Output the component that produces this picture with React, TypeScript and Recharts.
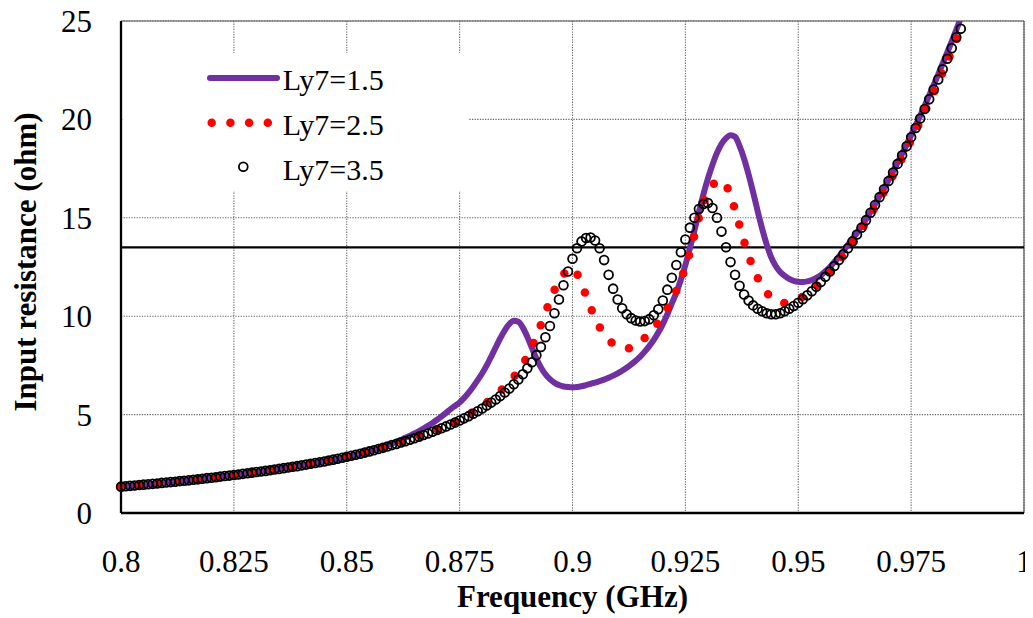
import React from 'react';
import { LineChart, Line, XAxis, YAxis, CartesianGrid, ReferenceLine, Legend } from 'recharts';

// ---------- data ----------
const FREQ_START = 0.8; // GHz, first sample
const FREQ_STEP = 0.001; // GHz, sample spacing
const xTicks = [0.8, 0.825, 0.85, 0.875, 0.9, 0.925, 0.95, 0.975, 1];
const yTicks = [0, 5, 10, 15, 20, 25];
const thresholdOhm = 13.5;
const seriesNames = ['Ly7=1.5', 'Ly7=2.5', 'Ly7=3.5'];

// 0.800 .. 0.856 GHz, where all three curves coincide
const commonLow = [
  1.34, 1.36, 1.38, 1.4, 1.42, 1.44, 1.46, 1.48, 1.5, 1.53,
  1.55, 1.57, 1.59, 1.62, 1.64, 1.66, 1.69, 1.71, 1.74, 1.77,
  1.79, 1.82, 1.85, 1.88, 1.9, 1.93, 1.96, 1.99, 2.02, 2.05,
  2.08, 2.11, 2.14, 2.17, 2.21, 2.24, 2.28, 2.31, 2.35, 2.38,
  2.42, 2.46, 2.5, 2.54, 2.58, 2.62, 2.67, 2.71, 2.76, 2.81,
  2.86, 2.91, 2.96, 3.01, 3.07, 3.13, 3.19,
];

// Ly7 = 1.5 (0.857 .. 0.986 GHz)
const ly7_15 = [
  ...commonLow,
  3.27, 3.35, 3.44,
  3.53, 3.62, 3.72, 3.82, 3.93, 4.04, 4.16, 4.29, 4.43, 4.58,
  4.74, 4.91, 5.09, 5.28, 5.45, 5.62, 5.85, 6.12, 6.42, 6.75,
  7.1, 7.5, 7.95, 8.42, 8.88, 9.28, 9.6, 9.77, 9.72, 9.42,
  8.95, 8.4, 7.85, 7.4, 7.05, 6.8, 6.62, 6.5, 6.43, 6.4,
  6.39, 6.4, 6.44, 6.5, 6.56, 6.63, 6.7, 6.78, 6.87, 6.98,
  7.1, 7.23, 7.38, 7.55, 7.74, 7.95, 8.2, 8.48, 8.8, 9.17,
  9.6, 10.1, 10.65, 11.2, 11.85, 12.6, 13.45, 14.35, 15.3, 16.2,
  17.0, 17.7, 18.3, 18.75, 19.05, 19.2, 19.12, 18.65, 18.0, 17.2,
  16.3, 15.35, 14.45, 13.65, 13.0, 12.55, 12.25, 12.05, 11.9, 11.8,
  11.75, 11.74, 11.77, 11.84, 11.94, 12.08, 12.28, 12.5, 12.75, 13.03,
  13.32, 13.63, 13.92, 14.23, 14.56, 14.92, 15.3, 15.69, 16.09, 16.5,
  16.92, 17.36, 17.8, 18.25, 18.72, 19.2, 19.69, 20.19, 20.7, 21.22,
  21.75, 22.29, 22.84, 23.4, 23.97, 24.55, 25.15,
];

// Ly7 = 2.5
const ly7_25 = [
  ...commonLow,
  3.25, 3.31, 3.38,
  3.45, 3.51, 3.58, 3.65, 3.72, 3.8, 3.88, 3.96, 4.04, 4.13,
  4.22, 4.31, 4.41, 4.52, 4.63, 4.75, 4.87, 5.0, 5.14, 5.29,
  5.45, 5.62, 5.8, 6.0, 6.2, 6.42, 6.66, 6.92, 7.22, 7.57,
  7.97, 8.45, 8.97, 9.57, 10.18, 10.77, 11.32, 11.78, 12.12, 12.36,
  12.45, 12.15, 11.65, 11.05, 10.45, 9.9, 9.45, 9.1, 8.82, 8.6,
  8.47, 8.39, 8.36, 8.4, 8.52, 8.7, 8.9, 9.15, 9.4, 9.68,
  10.0, 10.4, 10.85, 11.3, 11.85, 12.5, 13.25, 14.1, 15.0, 15.75,
  16.3, 16.65, 16.85, 16.9, 16.65, 16.15, 15.4, 14.6, 13.8, 13.1,
  12.45, 11.95, 11.5, 11.2, 10.95, 10.8, 10.7, 10.67, 10.7, 10.78,
  10.88, 11.0, 11.13, 11.3, 11.5, 11.72, 11.96, 12.22, 12.5, 12.79,
  13.09, 13.39, 13.72, 14.06, 14.41, 14.78, 15.16, 15.54, 15.93, 16.33,
  16.74, 17.16, 17.59, 18.03, 18.48, 18.94, 19.41, 19.89, 20.38, 20.87,
  21.37, 21.88, 22.4, 22.93, 23.47, 24.02, 24.5,
];

// Ly7 = 3.5
const ly7_35 = [
  ...commonLow,
  3.25, 3.31, 3.38,
  3.45, 3.51, 3.58, 3.65, 3.72, 3.8, 3.88, 3.96, 4.04, 4.13,
  4.22, 4.31, 4.4, 4.5, 4.6, 4.7, 4.81, 4.92, 5.04, 5.17,
  5.31, 5.46, 5.61, 5.77, 5.94, 6.12, 6.32, 6.54, 6.78, 7.05,
  7.35, 7.66, 8.02, 8.44, 8.93, 9.5, 10.15, 10.85, 11.57, 12.27,
  12.92, 13.45, 13.8, 13.97, 14.0, 13.85, 13.45, 12.85, 12.1, 11.4,
  10.85, 10.4, 10.1, 9.9, 9.78, 9.73, 9.75, 9.85, 10.05, 10.35,
  10.8, 11.35, 11.95, 12.6, 13.25, 13.9, 14.5, 15.0, 15.45, 15.7,
  15.75, 15.5, 15.0, 14.3, 13.5, 12.75, 12.1, 11.55, 11.1, 10.8,
  10.55, 10.38, 10.25, 10.15, 10.1, 10.1, 10.15, 10.25, 10.38, 10.52,
  10.68, 10.86, 11.06, 11.27, 11.5, 11.74, 12.0, 12.27, 12.55, 12.85,
  13.15, 13.45, 13.8, 14.15, 14.5, 14.88, 15.26, 15.65, 16.05, 16.45,
  16.87, 17.3, 17.74, 18.18, 18.63, 19.09, 19.56, 20.04, 20.53, 21.02,
  21.52, 22.03, 22.55, 23.08, 23.62, 24.17, 24.6,
];

const chartData = ly7_35.map((b, i) => ({
  f: Number((FREQ_START + i * FREQ_STEP).toFixed(3)),
  p: ly7_15[i],
  r: ly7_25[i],
  b,
}));

// ---------- styling ----------
const FONT = '"Liberation Serif", "Times New Roman", serif';
const PURPLE = '#7030A0';
const RED = '#FF0000';

const XTitle = () => (
  <text x={572.5} y={607} textAnchor="middle" fontFamily={FONT} fontWeight="bold" fontSize={31} fill="#000">
    Frequency (GHz)
  </text>
);

const YTitle = () => (
  <text x={36} y={262} transform="rotate(-90, 36, 262)" textAnchor="middle" fontFamily={FONT} fontWeight="bold" fontSize={31} fill="#000">
    Input resistance (ohm)
  </text>
);

const LegendBox = () => (
  <svg width={345} height={138} style={{ display: 'block', background: '#fff' }}>
    <line x1={87} y1={25} x2={154} y2={25} stroke={PURPLE} strokeWidth={6} strokeLinecap="round" />
    <line x1={88.7} y1={69.7} x2={145} y2={69.7} stroke={RED} strokeWidth={8.5} strokeDasharray="0 18.7" strokeLinecap="round" />
    <circle cx={120.3} cy={113.7} r={4.4} fill="none" stroke="#000" strokeWidth={1.8} />
    <text x={159.7} y={37} fontFamily={FONT} fontSize={30} fill="#000">{seriesNames[0]}</text>
    <text x={159.7} y={82} fontFamily={FONT} fontSize={30} fill="#000">{seriesNames[1]}</text>
    <text x={159.7} y={127} fontFamily={FONT} fontSize={30} fill="#000">{seriesNames[2]}</text>
  </svg>
);

export default function App() {
  return (
    <div style={{ width: 1033, height: 618, marginTop: -8, marginLeft: -8 }}>
      <LineChart
        width={1033}
        height={618}
        data={chartData}
        margin={{ top: 21, right: 9, bottom: 5, left: 21 }}
      >
        <CartesianGrid stroke="#6a6a6a" strokeDasharray="1.3 1.3" strokeWidth={1.1} />
        <XAxis
          dataKey="f"
          type="number"
          domain={[0.8, 1]}
          ticks={xTicks}
          interval={0}
          height={100}
          tickLine={false}
          tickSize={0}
          tickMargin={37}
          axisLine={{ stroke: '#000', strokeWidth: 2.3 }}
          tick={{ fill: '#000', fontSize: 31, fontFamily: FONT }}
          label={{ content: () => <XTitle /> }}
        />
        <YAxis
          type="number"
          domain={[0, 25]}
          allowDataOverflow
          ticks={yTicks}
          interval={0}
          width={100}
          tickLine={false}
          tickSize={0}
          tickMargin={29}
          axisLine={{ stroke: '#000', strokeWidth: 2.3 }}
          tick={{ fill: '#000', fontSize: 31, fontFamily: FONT }}
          label={{ content: () => <YTitle /> }}
        />
        <ReferenceLine y={25} stroke="#555" strokeWidth={1.2} />
        <ReferenceLine x={1} stroke="#555" strokeWidth={1.2} />
        <ReferenceLine y={thresholdOhm} stroke="#000" strokeWidth={2.2} />
        <Legend
          layout="horizontal"
          verticalAlign="middle"
          align="center"
          wrapperStyle={{ left: 123, top: 53, width: 345, height: 138, background: '#fff' }}
          content={() => <LegendBox />}
        />
        <Line
          dataKey="p"
          name={seriesNames[0]}
          type="monotone"
          stroke={PURPLE}
          strokeWidth={6}
          strokeLinejoin="round"
          dot={false}
          activeDot={false}
          isAnimationActive={false}
        />
        <Line
          dataKey="r"
          name={seriesNames[1]}
          type="monotone"
          stroke={RED}
          strokeWidth={8.5}
          strokeDasharray="0 19"
          strokeLinecap="round"
          dot={false}
          activeDot={false}
          isAnimationActive={false}
        />
        <Line
          dataKey="b"
          name={seriesNames[2]}
          type="monotone"
          stroke="none"
          strokeWidth={0}
          dot={{ r: 4.4, fill: 'none', stroke: '#000', strokeWidth: 1.8, clipDot: false }}
          activeDot={false}
          isAnimationActive={false}
        />
      </LineChart>
    </div>
  );
}
